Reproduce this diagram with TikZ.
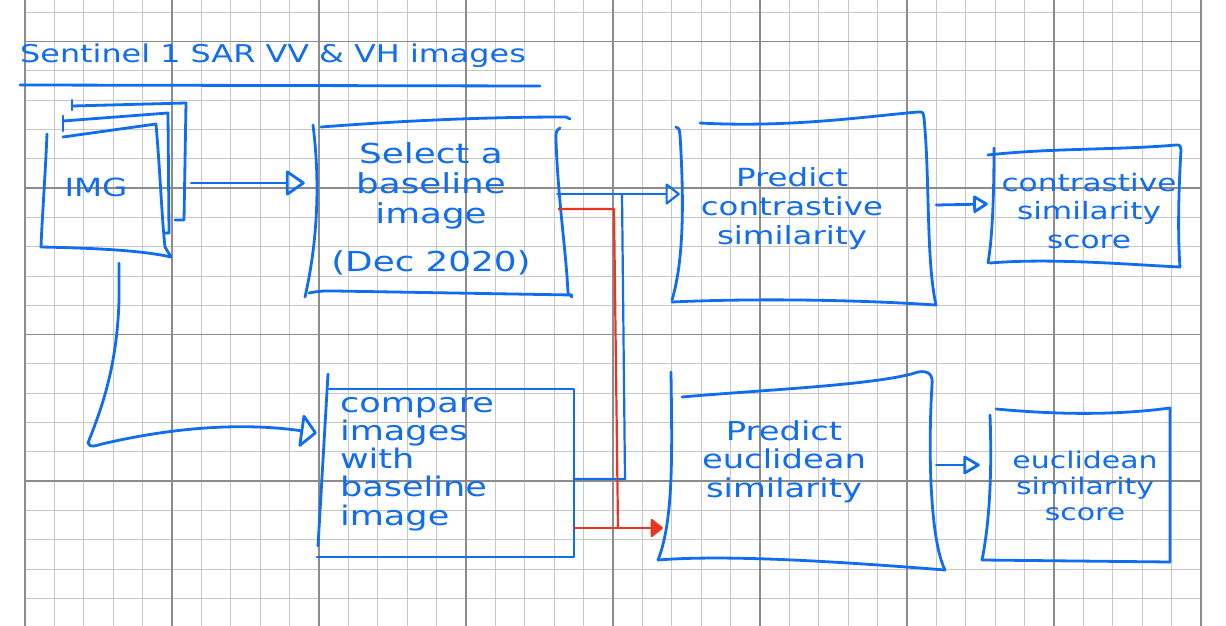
\documentclass[tikz,border=0pt]{standalone}
\usepackage{fontspec}
\setmainfont{DejaVu Sans}[FakeStretch=1.3]
\usetikzlibrary{arrows.meta,calc}
\definecolor{penblue}{RGB}{16,108,240}
\definecolor{penred}{RGB}{236,52,36}
\definecolor{gridminor}{RGB}{200,200,200}
\definecolor{gridmajor}{RGB}{140,140,140}
\newcommand\hlinesc[2]{\vtop{\baselineskip=#1\lineskiplimit=-\maxdimen\lineskip=0pt\halign{\hfil##\hfil\cr#2\crcr}}}
\newcommand\hlinesl[2]{\vtop{\baselineskip=#1\lineskiplimit=-\maxdimen\lineskip=0pt\halign{##\hfil\cr#2\crcr}}}
\tikzset{
  stroke/.style={draw=penblue, line width=2.8pt, line cap=round, line join=round},
  conn/.style={draw=penblue, line width=2.8pt, line cap=round, line join=round},
  redline/.style={draw=penred, line width=2.2pt, line join=round},
  boxnode/.style={draw=none, inner sep=0pt, text=penblue},
  minorgrid/.style={draw=gridminor, line width=1pt},
  majorgrid/.style={draw=gridmajor, line width=1.6pt},
}
\begin{document}
\begin{tikzpicture}[x=1pt,y=-1pt]
\useasboundingbox (0,0) rectangle (1226,626);
\fill[white] (0,0) rectangle (1226,626);
% grid paper
\foreach \i in {0,...,40} \draw[minorgrid] ({25+29.4*\i},0) -- ({25+29.4*\i},626);
\foreach \j in {0,...,20} \draw[minorgrid] (25,{12.3+29.3*\j}) -- (1201,{12.3+29.3*\j});
\foreach \i in {0,5,...,40} \draw[majorgrid] ({25+29.4*\i},0) -- ({25+29.4*\i},626);
\foreach \j in {1,6,11,16} \draw[majorgrid] (25,{12.3+29.3*\j}) -- (1201,{12.3+29.3*\j});

% title
\node[boxnode, anchor=base west, font=\fontsize{24.5}{30}\selectfont] (title) at (20,63) {Sentinel 1 SAR VV \& VH images};
\draw[stroke] (20,85) -- (540,86);

% nodes
\node[boxnode, minimum width=145pt, minimum height=154pt, font=\fontsize{25}{30}\selectfont] (img) at (113.5,180)
  {\raisebox{-16pt}[0pt][0pt]{IMG}\rule{35pt}{0pt}};
\node[boxnode, minimum width=267pt, minimum height=180pt, font=\fontsize{27.5}{30}\selectfont] (sel) at (438.5,207)
  {\raisebox{44pt}[0pt][0pt]{\hlinesc{30pt}{Select a\cr baseline\cr image\cr\noalign{\vskip18pt}(Dec 2020)}}\rule{15pt}{0pt}};
\node[boxnode, minimum width=257pt, minimum height=168pt, font=\fontsize{27}{28}\selectfont] (cmp) at (445.5,473)
  {\makebox[211pt][l]{\raisebox{61pt}[0pt][0pt]{\hlinesl{28.25pt}{compare\cr images\cr with\cr baseline\cr image}}}};
\node[boxnode, minimum width=264pt, minimum height=192pt, font=\fontsize{25}{28}\selectfont] (pc) at (804,209)
  {\raisebox{23pt}[0pt][0pt]{\hlinesc{29pt}{Predict\cr contrastive\cr similarity}}\rule{24pt}{0pt}};
\node[boxnode, minimum width=192pt, minimum height=122pt, font=\fontsize{24}{26}\selectfont] (cs) at (1084,206)
  {\rule{10pt}{0pt}\raisebox{15pt}[0pt][0pt]{\hlinesc{28.5pt}{contrastive\cr similarity\cr score}}};
\node[boxnode, minimum width=287pt, minimum height=198pt, font=\fontsize{26}{28}\selectfont] (pe) at (801.5,471)
  {\raisebox{31pt}[0pt][0pt]{\hlinesc{28.5pt}{Predict\cr euclidean\cr similarity}}\rule{35pt}{0pt}};
\node[boxnode, minimum width=188pt, minimum height=154pt, font=\fontsize{23}{24}\selectfont] (es) at (1076,485)
  {\rule{18pt}{0pt}\raisebox{17pt}[0pt][0pt]{\hlinesc{26pt}{euclidean\cr similarity\cr score}}};

% hand-drawn outlines: image stack
\draw[stroke] (72,100) -- (72,110);
\draw[stroke] (72,106) -- (186,103) -- (184,220) -- (175,220);
\draw[stroke] (63,116) -- (63,131);
\draw[stroke] (63,121) -- (168,113) -- (169,233) -- (165,233);
\draw[stroke] (63,137) -- (156,124) .. controls (160,170) and (162,220) .. (165,247) -- (171,257);
\draw[stroke] (47,134) .. controls (45,180) and (42,220) .. (41,247) .. controls (90,248) and (140,250) .. (171,257);
% select box
\draw[stroke] (321,127) .. controls (400,121) and (480,117) .. (566,117) -- (570,119);
\draw[stroke] (313,125) .. controls (320,180) and (318,240) .. (305,297);
\draw[stroke] (309,293) .. controls (320,291) .. (335,291) -- (572,295);
\draw[stroke] (560,128) .. controls (556,131) .. (556,140) .. controls (558,200) and (566,250) .. (568,293) -- (572,297);
% compare box
\draw[stroke] (329,389) -- (574,389) -- (574,557) -- (317,557);
\draw[stroke] (328,374) -- (318,546);
% predict contrastive box
\draw[stroke] (700,123) .. controls (790,128) and (870,116) .. (918,112) .. controls (923,112) .. (924,118) .. controls (930,180) and (926,260) .. (936,305);
\draw[stroke] (676,127) .. controls (679,128) .. (680,135) .. controls (684,200) and (684,260) .. (672,300);
\draw[stroke] (672,302) .. controls (760,298) and (860,300) .. (936,305);
% contrastive score box
\draw[stroke] (988,155) .. controls (1050,148) and (1120,150) .. (1176,145) .. controls (1180,145) .. (1181,150) .. controls (1178,200) and (1178,240) .. (1180,267);
\draw[stroke] (994,148) .. controls (994,200) and (992,240) .. (988,263);
\draw[stroke] (990,263) .. controls (1050,258) and (1120,264) .. (1180,267);
% predict euclidean box
\draw[stroke] (682,397) .. controls (760,390) and (880,385) .. (918,372) .. controls (930,370) and (933,376) .. (932,385) .. controls (928,450) and (930,540) .. (945,570);
\draw[stroke] (671,372) .. controls (672,450) and (674,520) .. (658,560);
\draw[stroke] (658,560) .. controls (720,555) and (820,560) .. (945,570);
% euclidean score box
\draw[stroke] (996,409) .. controls (1050,414) and (1110,416) .. (1170,408) -- (1170,562);
\draw[stroke] (990,415) .. controls (992,470) and (990,520) .. (982,560);
\draw[stroke] (982,560) -- (1170,562);

% connectors
\draw[conn, -{Triangle[open,round,length=20pt,width=27pt]}] ($(img.east)+(5,3)$) -- ($(sel.west)+(0,-24)$);
\draw[conn, -{Triangle[open,round,length=17pt,width=36pt]}] ($(img.south)+(5.5,6)$) -- (119,300) .. controls (117,370) and (100,412) .. (88,443) .. controls (90,448) and (95,446) .. (102,444) .. controls (170,428) and (240,422) .. ($(cmp.west)+(0,-40)$);
\draw[conn, line width=2.2pt, -{Triangle[open,round,length=15pt,width=23pt]}] ($(sel.east)+(-15,-13)$) -- ($(pc.west)+(8,-15)$);
\coordinate (jn) at (622,194);
\draw[conn, line width=2.2pt, line cap=butt] ($(cmp.east)+(0,6)$) -- (625,479) -- (jn);
\coordinate (rj) at (618,528);
\draw[redline] ($(sel.east)+(-14,2)$) -- (614,209) -- (rj);
\draw[redline, -{Triangle[round,length=13pt,width=20pt]}] ($(cmp.east)+(0,55)$) -- ($(pe.west)+(5,57)$);
\draw[conn, -{Triangle[open,round,length=16pt,width=19pt]}] ($(pc.east)+(0,-4)$) -- ($(cs.west)+(0,-2)$);
\draw[conn, -{Triangle[open,round,length=18pt,width=20pt]}] ($(pe.east)+(-9,-6)$) -- ($(es.west)+(-2,-20)$);
\end{tikzpicture}
\end{document}
